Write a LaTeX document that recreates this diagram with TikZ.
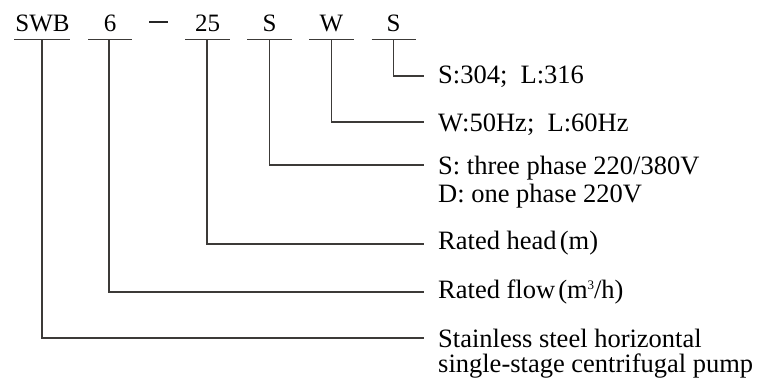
\documentclass[tikz,border=0pt]{standalone}
\usepackage{fontspec}
\setmainfont{Liberation Serif}
\definecolor{wire}{HTML}{3C3A38}
\newcommand{\cubed}{\kern-0.01em\raisebox{0.36em}{\fontsize{13}{13}\selectfont 3}}
\begin{document}
\begin{tikzpicture}[x=1pt,y=-1pt,
  code/.style={anchor=base,inner sep=0pt,font=\fontsize{25}{28}\selectfont},
  desc/.style={anchor=base west,inner sep=0pt,font=\fontsize{26.5}{28}\selectfont},
  wireline/.style={draw=wire,line width=1.2pt},
  leader/.style={wireline,line join=miter}]
\useasboundingbox (0,0) rectangle (769,382);

% model code letters
\node[code] (swb) at (42.5,31.5) {SWB};
\node[code] (flow) at (110,31.5) {6};
\node[code] (head) at (207.5,31.5) {25};
\node[code] (volt) at (269.5,31.5) {S};
\node[code] (freq) at (331.5,31.5) {W};
\node[code] (mat) at (393.5,31.5) {S};

% dash between flow and head
\coordinate (dashL) at (149,21.7);
\coordinate (dashR) at (168,21.7);
\draw[draw=black!85,line width=2pt] (dashL) -- (dashR);

% underlines under each code
\foreach \n/\a/\b in {swb/14/70, flow/88/132, head/185/230, volt/247/292, freq/309/354, mat/371.5/416}
  \draw[wireline] (\a,39.5) -- (\b,39.5);

% stem points on the underlines
\coordinate (sSWB) at (42,39.5);
\coordinate (sFlow) at (109,39.5);
\coordinate (sHead) at (207,39.5);
\coordinate (sVolt) at (269.5,39.5);
\coordinate (sFreq) at (331.5,39.5);
\coordinate (sMat) at (393.5,39.5);

% leader ends
\coordinate (eMat) at (424,76);
\coordinate (eFreq) at (424,122);
\coordinate (eVolt) at (424,165);
\coordinate (eHead) at (424,244);
\coordinate (eFlow) at (424,292);
\coordinate (eSWB) at (424,338);

% descriptions
\node[desc] (dMat) at (438,83.5) {S:304;\ \ L:316};
\node[desc] (dFreq) at (438,132) {W:50Hz;\ \ L:60Hz};
\node[desc] (dVoltA) at (438,175) {S: three phase 220/380V};
\node[desc] (dVoltB) at (438,203) {D: one phase 220V};
\node[desc] (dHead) at (438,250) {Rated head\hspace{0.12em}(m)};
\node[desc] (dFlow) at (438,299) {Rated flow\hspace{0.12em}(m\cubed/h)};
\node[desc] (dSWBA) at (438,347) {Stainless steel horizontal};
\node[desc] (dSWBB) at (438,372) {single-stage centrifugal pump};

% leaders from the codes to their descriptions
\draw[leader] (sMat) |- (eMat);
\draw[leader] (sFreq) |- (eFreq);
\draw[leader] (sVolt) |- (eVolt);
\draw[leader] (sHead) |- (eHead);
\draw[leader] (sFlow) |- (eFlow);
\draw[leader] (sSWB) |- (eSWB);
\end{tikzpicture}
\end{document}
